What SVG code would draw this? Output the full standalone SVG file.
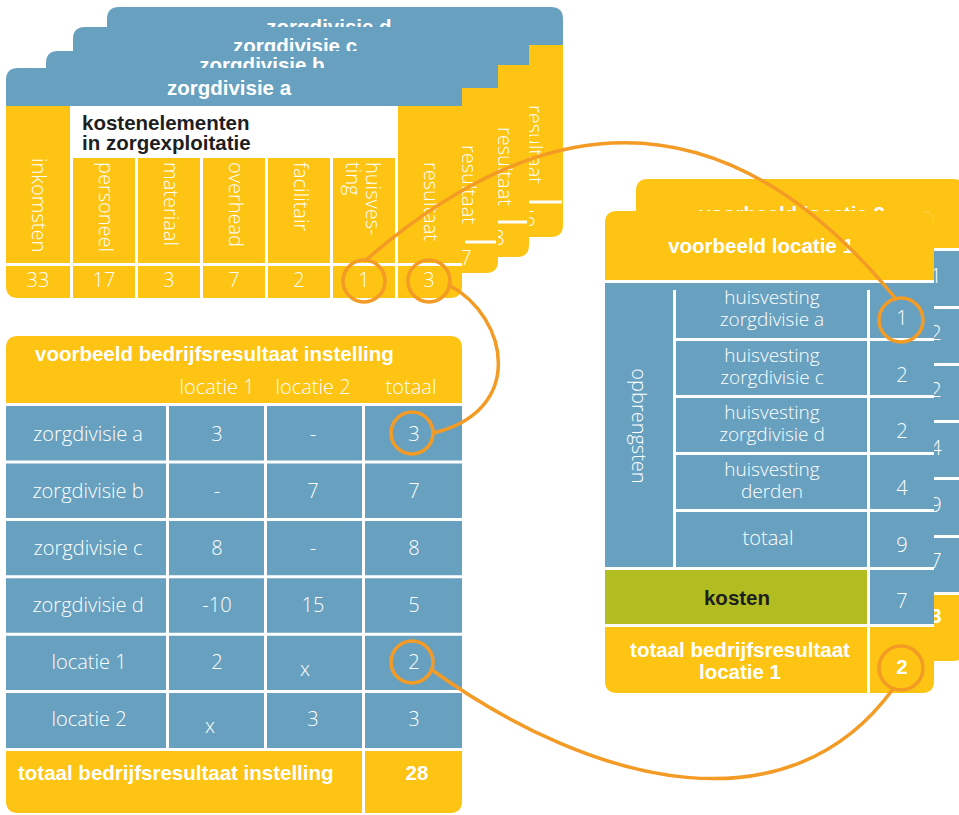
<svg xmlns="http://www.w3.org/2000/svg" xmlns:xlink="http://www.w3.org/1999/xlink" width="959" height="815" viewBox="0 0 959 815">
  <style>
    .lt { font-family: "Open Sans", "Liberation Sans", sans-serif; font-weight: 350; font-size: 20px; fill: #fff; }
    .sm { font-size: 19px; }
    .bd { font-family: "Liberation Sans", Arial, sans-serif; font-weight: bold; font-size: 20.5px; fill: #fff; }
    .dk { fill: #1e1e1e; }
    .c { text-anchor: middle; }
    .blue { fill: #68a1c0; }
    .yel { fill: #fdc413; }
    .grn { fill: #b2bd22; }
    .wl { stroke: #fff; stroke-width: 3; fill: none; }
    .ring { fill: none; stroke: #f39b24; stroke-width: 3.5; }
    .link { fill: none; stroke: #f39b24; stroke-width: 3.5; stroke-linecap: round; }
  </style>
  <defs>
    <!-- frame of a location card (header, revenue rows, costs, result) -->
    <g id="loc-frame">
      <path fill="#fff" d="M605,223 Q605,211 617,211 H922 Q934,211 934,223 V681 Q934,693 922,693 H617 Q605,693 605,681 Z"/>
      <path class="yel" d="M605,280 V223 Q605,211 617,211 H922 Q934,211 934,223 V280 Z"/>
      <rect class="blue" x="605" y="283" width="329" height="284"/>
      <rect class="grn" x="605" y="570" width="262" height="54"/>
      <rect class="blue" x="870" y="570" width="64" height="54"/>
      <path class="yel" d="M605,627 H867 V693 H617 Q605,693 605,681 Z"/>
      <path class="yel" d="M870,627 H934 V681 Q934,693 922,693 H870 Z"/>
      <path class="wl" d="M674.5,290 V567 M868.5,290 V567 M673,339.5 H934 M673,396.5 H934 M673,453.5 H934 M673,510.5 H934"/>
    </g>
  </defs>

  <rect width="959" height="815" fill="#fff"/>

  <!-- stacked care-division cards, back to front -->
  <g id="card-d">
    <path class="blue" d="M107,45 V19 Q107,7 119,7 H551 Q563,7 563,19 V45 Z"/>
    <path class="yel" d="M107,45 H563 V225 Q563,237 551,237 H107 Z"/>
    <text class="bd c" x="329" y="33.5">zorgdivisie d</text>
    <text class="lt" transform="translate(528,105) rotate(90)">resultaat</text>
    <path class="wl" d="M529,202 H562"/>
    <text class="lt c" x="530" y="226">5</text>
  </g>
  <g id="card-c">
    <path class="blue" d="M73,65 V39 Q73,27 85,27 H517 Q529,27 529,39 V65 Z"/>
    <path class="yel" d="M73,65 H529 V245 Q529,257 517,257 H73 Z"/>
    <text class="bd c" x="295" y="53">zorgdivisie c</text>
    <text class="lt" transform="translate(498,127) rotate(90)">resultaat</text>
    <path class="wl" d="M498,222 H527"/>
    <text class="lt c" x="499" y="245">8</text>
  </g>
  <g id="card-b">
    <path class="blue" d="M46,88 V63 Q46,51 58,51 H486 Q498,51 498,63 V88 Z"/>
    <path class="yel" d="M46,88 H498 V261 Q498,273 486,273 H46 Z"/>
    <text class="bd c" x="262" y="72">zorgdivisie b</text>
    <text class="lt" transform="translate(462,145) rotate(90)">resultaat</text>
    <path class="wl" d="M465,242 H496"/>
    <text class="lt c" x="466" y="265">7</text>
  </g>
  <g id="card-a">
    <path class="blue" d="M6,106 V80 Q6,68 18,68 H450 Q462,68 462,80 V106 Z"/>
    <path class="yel" d="M6,106 H462 V286 Q462,298 450,298 H18 Q6,298 6,286 Z"/>
    <rect fill="#fff" x="70" y="106" width="328" height="52"/>
    <path class="wl" d="M71.5,106 V298 M136.5,158 V298 M201.5,158 V298 M266.5,158 V298 M331.5,158 V298 M396.5,106 V298 M6,264.5 H462"/>
    <text class="bd c" x="229" y="95">zorgdivisie a</text>
    <text class="bd dk" x="82" y="130">kostenelementen</text>
    <text class="bd dk" x="82" y="150">in zorgexploitatie</text>
    <text class="lt" transform="translate(32,158) rotate(90)">inkomsten</text>
    <text class="lt" transform="translate(99,162) rotate(90)">personeel</text>
    <text class="lt" transform="translate(164,162) rotate(90)">materiaal</text>
    <text class="lt" transform="translate(229,162) rotate(90)">overhead</text>
    <text class="lt" transform="translate(294,162) rotate(90)">facilitair</text>
    <text class="lt" transform="translate(366,162) rotate(90)">huisves-<tspan x="0" dy="20">ting</tspan></text>
    <text class="lt" transform="translate(424,162) rotate(90)">resultaat</text>
    <text class="lt c" x="38" y="287">33</text>
    <text class="lt c" x="104" y="287">17</text>
    <text class="lt c" x="169" y="287">3</text>
    <text class="lt c" x="234" y="287">7</text>
    <text class="lt c" x="299" y="287">2</text>
    <text class="lt c" x="364" y="287">1</text>
    <text class="lt c" x="429" y="287">3</text>
  </g>

  <!-- location cards -->
  <g id="locatie-2">
    <use xlink:href="#loc-frame" href="#loc-frame" transform="translate(31,-32)"/>
    <text class="bd c" x="792" y="221">voorbeeld locatie 2</text>
    <text class="lt c" x="936" y="283">1</text>
    <text class="lt c" x="936" y="340">2</text>
    <text class="lt c" x="936" y="397">2</text>
    <text class="lt c" x="936" y="455">4</text>
    <text class="lt c" x="936" y="512">9</text>
    <text class="lt c" x="936" y="568">7</text>
    <text class="bd c" x="936" y="623">3</text>
  </g>
  <g id="locatie-1">
    <use xlink:href="#loc-frame" href="#loc-frame"/>
    <text class="bd c" x="761" y="253">voorbeeld locatie 1</text>
    <text class="lt c" transform="translate(632,426) rotate(90)">opbrengsten</text>
    <text class="lt sm c" x="772" y="304">huisvesting</text>
    <text class="lt sm c" x="772" y="326">zorgdivisie a</text>
    <text class="lt sm c" x="772" y="362">huisvesting</text>
    <text class="lt sm c" x="772" y="384">zorgdivisie c</text>
    <text class="lt sm c" x="772" y="419">huisvesting</text>
    <text class="lt sm c" x="772" y="441">zorgdivisie d</text>
    <text class="lt sm c" x="772" y="476">huisvesting</text>
    <text class="lt sm c" x="772" y="498">derden</text>
    <text class="lt c" x="768" y="545">totaal</text>
    <text class="lt c" x="902" y="325">1</text>
    <text class="lt c" x="902" y="382">2</text>
    <text class="lt c" x="902" y="438">2</text>
    <text class="lt c" x="902" y="495">4</text>
    <text class="lt c" x="902" y="552">9</text>
    <text class="lt c" x="902" y="608">7</text>
    <text class="bd dk c" x="737" y="605">kosten</text>
    <text class="bd c" x="740" y="657">totaal bedrijfsresultaat</text>
    <text class="bd c" x="740" y="679">locatie 1</text>
    <text class="bd c" x="902" y="674">2</text>
  </g>

  <!-- organisation result table -->
  <g id="instelling">
    <path class="yel" d="M6,403 V348 Q6,336 18,336 H450 Q462,336 462,348 V403 Z"/>
    <rect class="blue" x="6" y="406" width="456" height="342"/>
    <path class="wl" d="M167.5,406 V748 M265.5,406 V748 M363.5,406 V748 M6,462 H462 M6,519.4 H462 M6,576.8 H462 M6,634.2 H462 M6,691.6 H462"/>
    <path class="yel" d="M6,751 H362 V813 H18 Q6,813 6,801 Z"/>
    <path class="yel" d="M365,751 H462 V801 Q462,813 450,813 H365 Z"/>
    <text class="bd" x="35" y="361">voorbeeld bedrijfsresultaat instelling</text>
    <text class="lt c" x="217" y="394">locatie 1</text>
    <text class="lt c" x="313" y="394">locatie 2</text>
    <text class="lt c" x="411" y="394">totaal</text>

    <text class="lt c" x="88" y="441">zorgdivisie a</text>
    <text class="lt c" x="217" y="441">3</text>
    <text class="lt c" x="313" y="441">-</text>
    <text class="lt c" x="414" y="441">3</text>

    <text class="lt c" x="88" y="498">zorgdivisie b</text>
    <text class="lt c" x="217" y="498">-</text>
    <text class="lt c" x="313" y="498">7</text>
    <text class="lt c" x="414" y="498">7</text>

    <text class="lt c" x="88" y="555">zorgdivisie c</text>
    <text class="lt c" x="217" y="555">8</text>
    <text class="lt c" x="313" y="555">-</text>
    <text class="lt c" x="414" y="555">8</text>

    <text class="lt c" x="88" y="612">zorgdivisie d</text>
    <text class="lt c" x="217" y="612">-10</text>
    <text class="lt c" x="313" y="612">15</text>
    <text class="lt c" x="414" y="612">5</text>

    <text class="lt c" x="89" y="669">locatie 1</text>
    <text class="lt c" x="217" y="669">2</text>
    <text class="lt c" x="305" y="676">x</text>
    <text class="lt c" x="414" y="669">2</text>

    <text class="lt c" x="89" y="726">locatie 2</text>
    <text class="lt c" x="210" y="733">x</text>
    <text class="lt c" x="313" y="726">3</text>
    <text class="lt c" x="414" y="726">3</text>

    <text class="bd" x="18" y="780">totaal bedrijfsresultaat instelling</text>
    <text class="bd c" x="417" y="780">28</text>
  </g>

  <!-- highlight rings and the links between them -->
  <g id="connectors">
    <circle class="ring" cx="364" cy="281" r="21"/>
    <circle class="ring" cx="429" cy="281" r="21"/>
    <circle class="ring" cx="412" cy="433" r="21"/>
    <circle class="ring" cx="412" cy="662" r="21"/>
    <circle class="ring" cx="901" cy="320" r="22"/>
    <circle class="ring" cx="901" cy="668" r="22"/>
    <path class="link" d="M366,260 C510,135 700,60 896,299"/>
    <path class="link" d="M449,285 C510,318 525,412 433,433"/>
    <path class="link" d="M432,670 C600,790 790,830 893,689"/>
  </g>
</svg>
